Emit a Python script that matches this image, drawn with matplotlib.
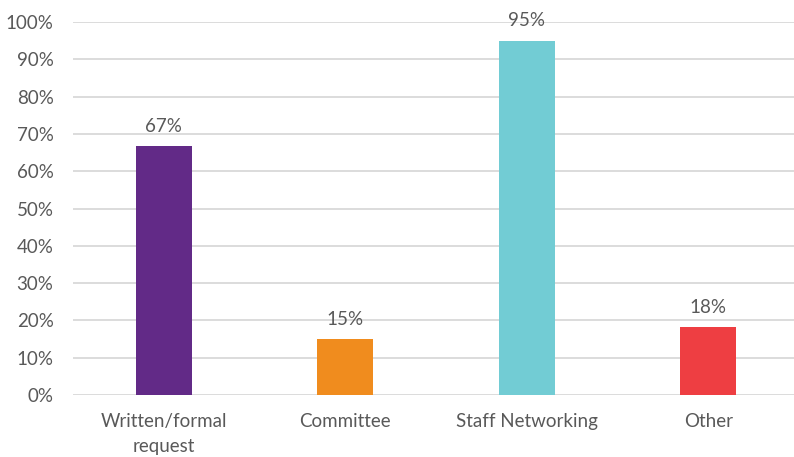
import matplotlib

matplotlib.use("Agg")

import matplotlib.pyplot as plt
from matplotlib.ticker import PercentFormatter

categories = ["Written/formal\nrequest", "Committee", "Staff Networking", "Other"]
shares = [0.667, 0.15, 0.95, 0.182]
bar_colors = ["#622A87", "#F08C1E", "#72CCD4", "#EE3E42"]

TEXT = "#595959"
GRID = "#D9D9D9"
FS = 13.5

plt.rcParams["font.family"] = ["Lato", "DejaVu Sans"]

fig = plt.figure(figsize=(7.94, 4.57), dpi=100, facecolor="white")
ax = fig.add_axes([73 / 794, 62 / 457, 726 / 794, 373 / 457])

x = range(len(categories))
bars = ax.bar(x, shares, width=0.31, color=bar_colors, zorder=3)

for rect, val in zip(bars, shares):
    ax.text(
        rect.get_x() + rect.get_width() / 2,
        val + 0.03,
        f"{val:.0%}",
        ha="center",
        va="bottom",
        fontsize=FS,
        color=TEXT,
    )

ax.set_xlim(-0.5, len(categories) - 0.5)
ax.set_ylim(0, 1.0)
ax.set_yticks([i / 10 for i in range(11)])
ax.yaxis.set_major_formatter(PercentFormatter(1.0, decimals=0))
ax.set_xticks(list(x))
ax.set_xticklabels(categories, linespacing=1.6)

ax.grid(axis="y", color=GRID, linewidth=1.3, zorder=0)
ax.tick_params(axis="both", length=0, labelsize=FS, labelcolor=TEXT)
ax.tick_params(axis="y", pad=14)
ax.tick_params(axis="x", pad=13)
for spine in ax.spines.values():
    spine.set_visible(False)

fig.savefig("out.png", dpi=100, facecolor=fig.get_facecolor())
plt.close(fig)
